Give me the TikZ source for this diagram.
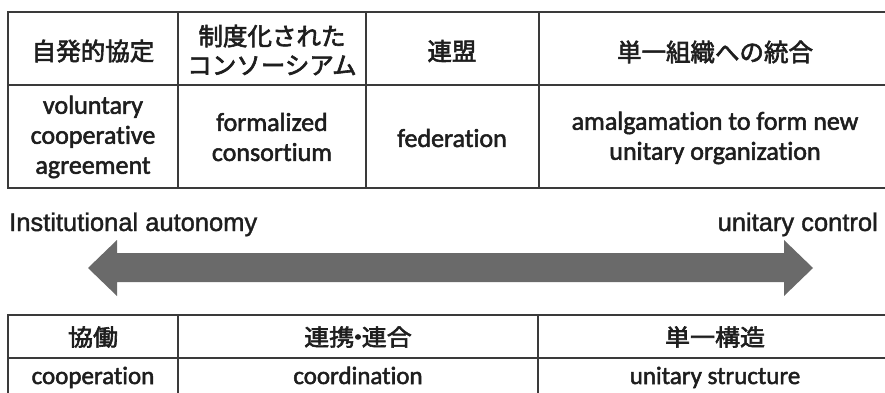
\documentclass[tikz,border=0pt]{standalone}
\usepackage{fontspec}
\setmainfont[Ligatures=NoCommon,FakeBold=2]{Carlito}
\newfontfamily\jpfont[FakeBold=2.5]{Noto Sans CJK JP}
\newfontfamily\arialfont[FakeBold=1.5]{Liberation Sans}
\definecolor{txt}{HTML}{1E1E1E}
\definecolor{rule}{HTML}{3A3A3A}
\definecolor{arrowgray}{HTML}{6A6A6A}
\begin{document}
\begin{tikzpicture}[x=1pt,y=-1pt,
  gridline/.style={draw=rule,line width=2pt},
  jphead/.style={inner sep=0pt,align=center,text=txt,font=\jpfont\fontsize{24.5}{29}\selectfont},
  entext/.style={inner sep=0pt,align=center,text=txt,font=\fontsize{26}{30}\selectfont},
  jpbot/.style={inner sep=0pt,align=center,text=txt,font=\jpfont\fontsize{25}{29}\selectfont},
  enbot/.style={inner sep=0pt,align=center,text=txt,font=\fontsize{25}{29}\selectfont},
  axislabel/.style={inner sep=0pt,text=txt,font=\arialfont\fontsize{25.5}{30}\selectfont}]
\useasboundingbox (0,0) rectangle (885,393);
% top table
\draw[gridline] (886,12) -- (8,12) -- (8,188) -- (886,188);
\draw[gridline] (8,85) -- (886,85);
\draw[gridline] (178,12) -- (178,188);
\draw[gridline] (366,12) -- (366,188);
\draw[gridline] (539,12) -- (539,188);
\node[jphead] (h1) at (93,51) {自発的協定};
\node[jphead] (h2) at (272,50) {制度化された\\コンソーシアム};
\node[jphead] (h3) at (452,51) {連盟};
\node[jphead] (h4) at (715,52) {単一組織への統合};
\node[entext] (e1) at (93,137) {voluntary\\cooperative\\agreement};
\node[entext] (e2) at (272,137) {formalized\\consortium};
\node[entext] (e3) at (452,138) {federation};
\node[entext] (e4) at (715,138) {amalgamation to form new\\unitary organization};
% axis
\node[axislabel,anchor=base west] (la) at (9,231) {Institutional autonomy};
\node[axislabel,anchor=base east] (ra) at (878,231) {unitary control};
\fill[arrowgray] (88,268) -- (117,240) -- (117,253) -- (784,253) -- (784,240)
  -- (813,268) -- (784,296) -- (784,282) -- (117,282) -- (117,296) -- cycle;
% bottom table
\draw[gridline] (886,315) -- (8,315) -- (8,395);
\draw[gridline] (8,358) -- (886,358);
\draw[gridline] (178,315) -- (178,395);
\draw[gridline] (538,315) -- (538,395);
\node[jpbot] (b1) at (93,337) {\scalebox{1}[0.92]{協働}};
\node[jpbot] (b2) at (358,337) {\scalebox{1}[0.92]{連携\kern-0.35em・\kern-0.35em連合}};
\node[jpbot] (b3) at (715,337) {\scalebox{1}[0.92]{単一構造}};
\node[enbot,anchor=base] (c1) at (93,384) {cooperation};
\node[enbot,anchor=base] (c2) at (358,384) {coordination};
\node[enbot,anchor=base] (c3) at (715,384) {unitary structure};
\end{tikzpicture}
\end{document}
